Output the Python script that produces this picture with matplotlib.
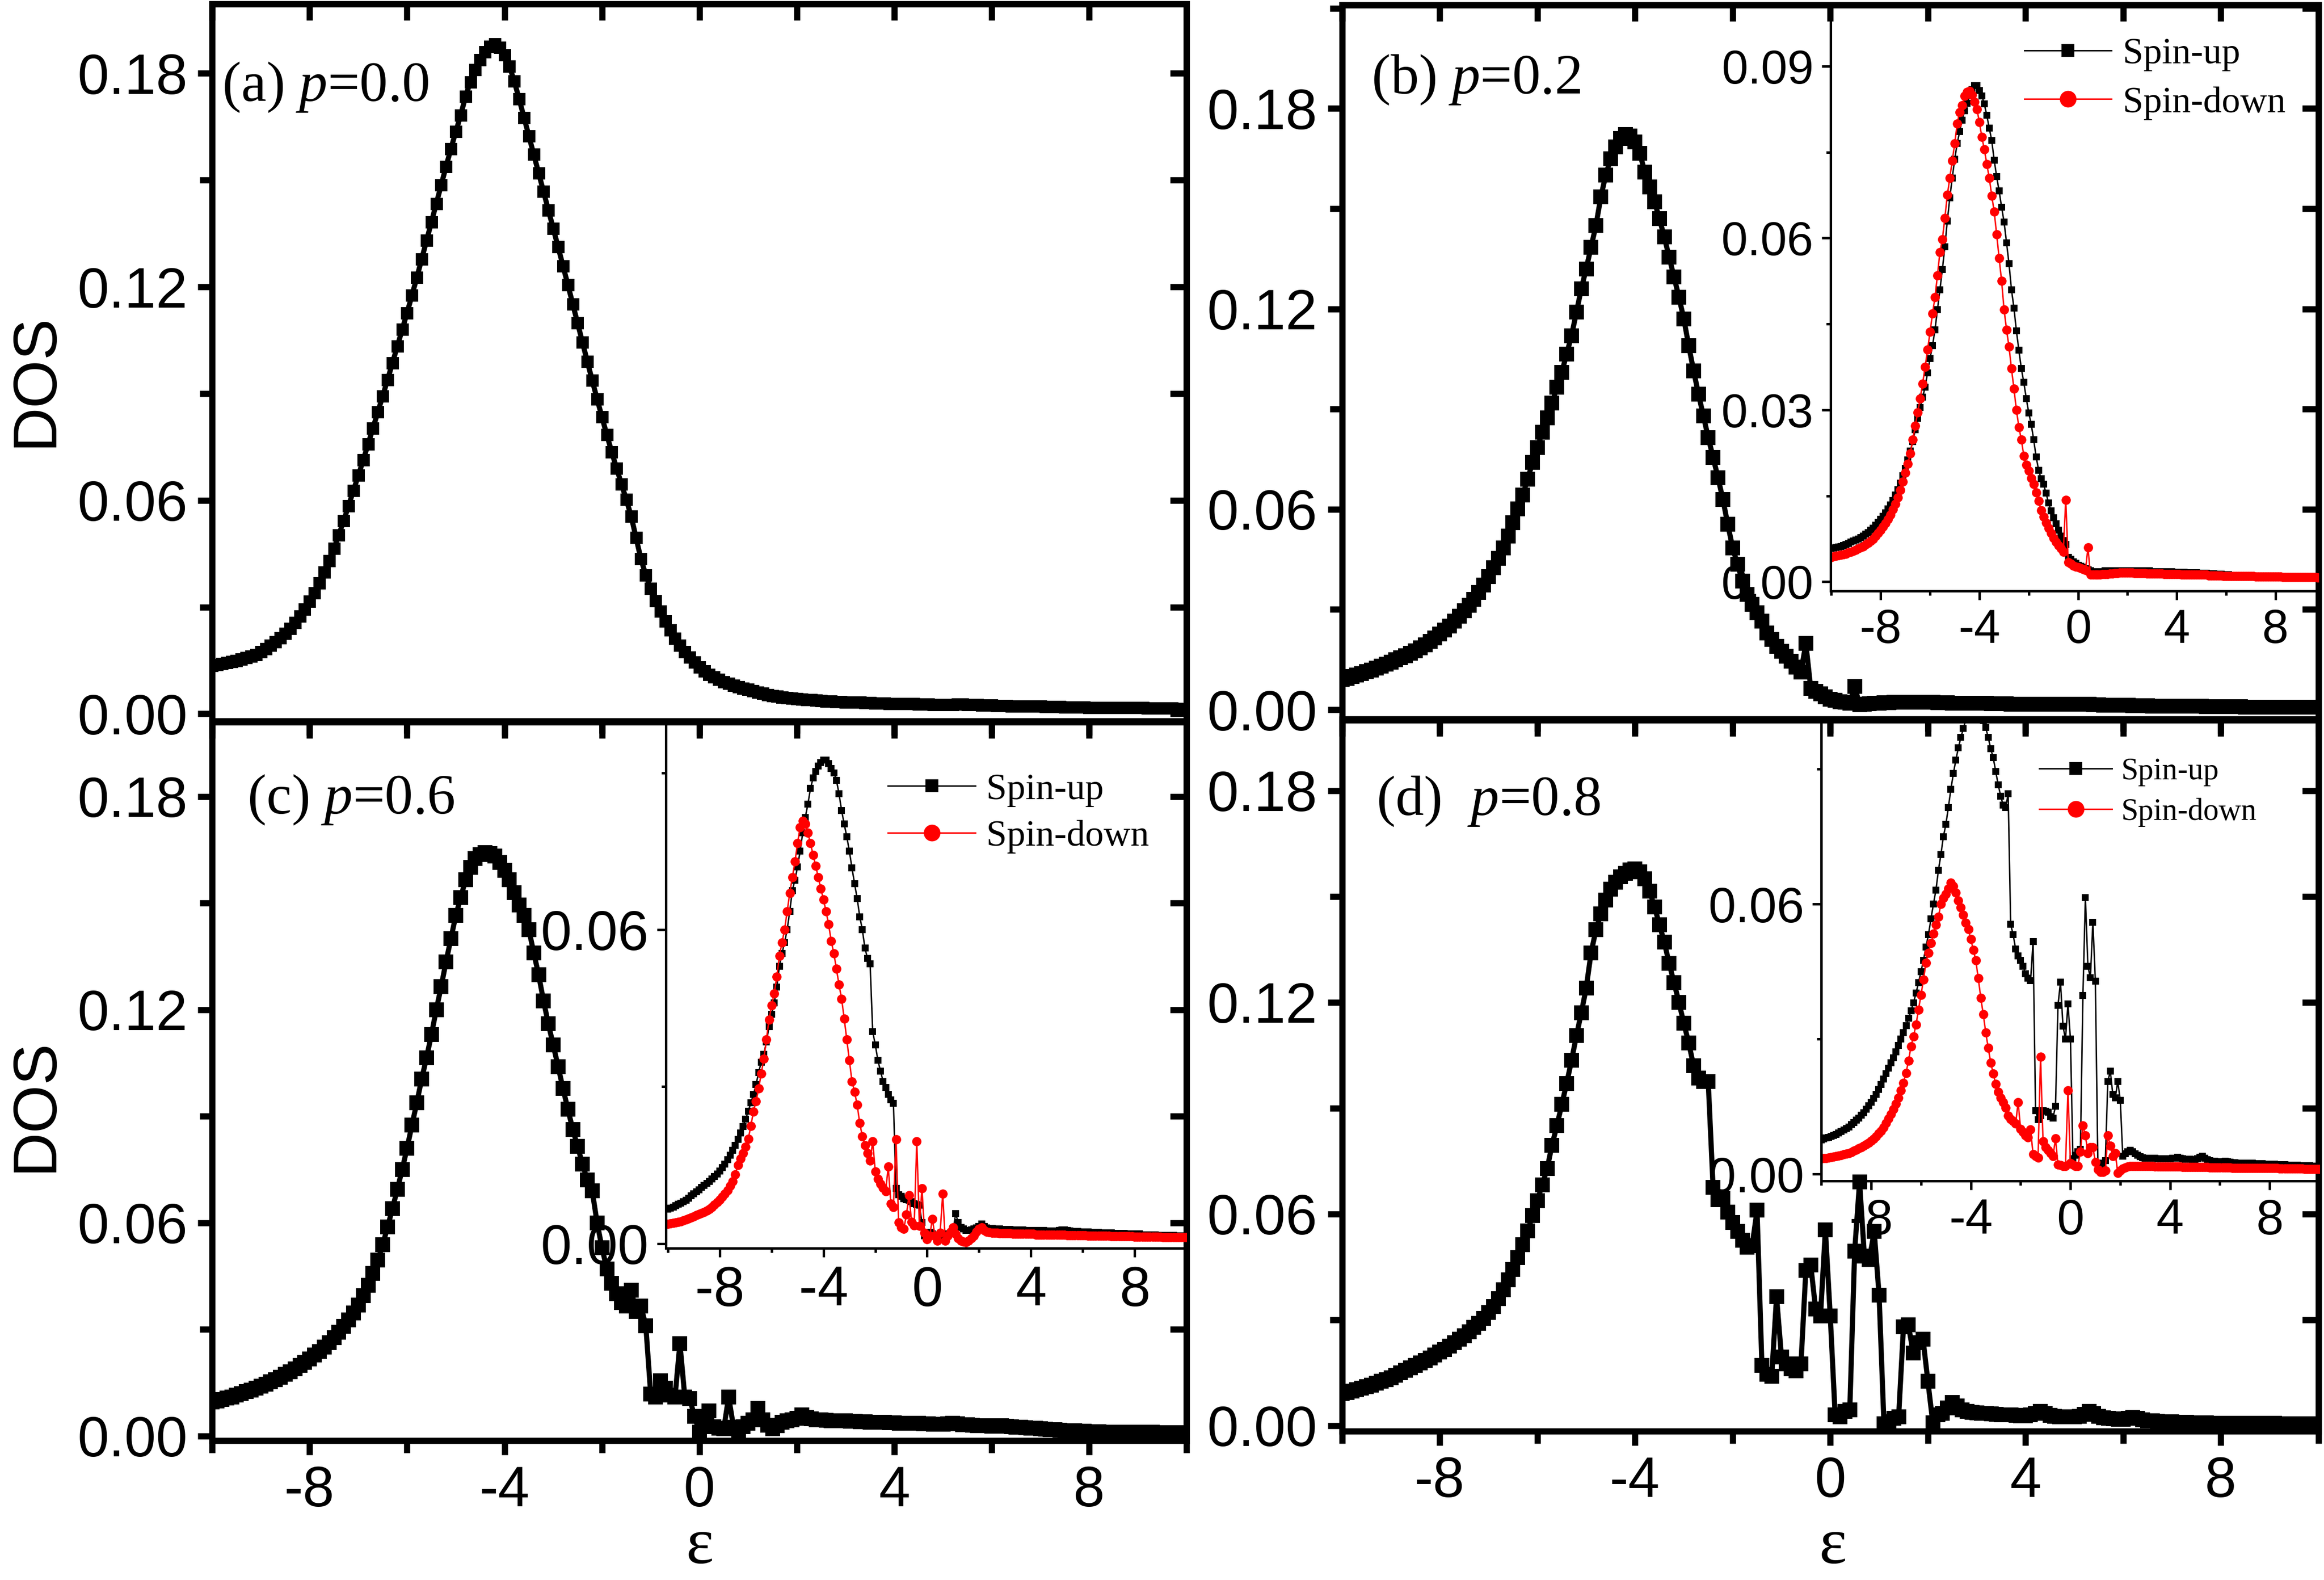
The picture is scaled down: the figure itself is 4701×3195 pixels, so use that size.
import numpy as np
import matplotlib.pyplot as plt
from matplotlib.ticker import MultipleLocator, FormatStrFormatter, NullFormatter

plt.rcParams['font.family'] = 'Liberation Sans'
plt.rcParams['axes.unicode_minus'] = False
plt.rcParams['mathtext.fontset'] = 'custom'
plt.rcParams['mathtext.it'] = 'Liberation Serif:italic'
plt.rcParams['mathtext.rm'] = 'Liberation Serif'

# energy grid, -10 .. 10 in steps of 0.1
eps = np.linspace(-10, 10, 201)

# all DOS values below are in units of 1e-3, one row per unit of energy
dos_a = [
    13.5, 13.8, 14.1, 14.4, 14.7, 15.0, 15.4, 15.8, 16.2, 16.6,
    17.5, 18.3, 19.2, 20.2, 21.3, 22.6, 24.0, 25.6, 27.4, 29.4,
    31.6, 34.0, 36.8, 39.8, 43.0, 46.5, 50.3, 54.3, 58.5, 62.8,
    67.0, 71.3, 75.8, 80.3, 84.8, 89.3, 93.9, 98.6, 103.3, 108.0,
    112.7, 117.6, 122.6, 127.8, 133.0, 138.2, 143.4, 148.6, 153.8, 158.8,
    163.6, 168.2, 173.5, 177.6, 181.0, 183.8, 186.0, 187.6, 188.2, 187.2,
    185.2, 182.0, 177.8, 172.8, 167.6, 162.4, 157.2, 152.0, 146.8, 141.6,
    136.4, 131.2, 125.9, 120.6, 115.2, 109.8, 104.4, 99.0, 93.7, 88.5,
    83.4, 78.4, 73.6, 69.0, 64.6, 60.2, 55.5, 49.5, 43.5, 39.0,
    35.2, 31.8, 28.8, 26.0, 23.5, 21.2, 19.2, 17.4, 15.9, 14.5,
    13.2, 12.0, 11.1, 10.3, 9.6, 9.0, 8.5, 8.0, 7.6, 7.2,
    6.9, 6.5, 6.1, 5.8, 5.4, 5.1, 4.9, 4.7, 4.5, 4.4,
    4.3, 4.1, 4.0, 3.9, 3.8, 3.7, 3.6, 3.5, 3.4, 3.4,
    3.3, 3.3, 3.2, 3.2, 3.1, 3.1, 3.0, 3.0, 3.0, 2.9,
    2.9, 2.9, 2.8, 2.8, 2.8, 2.7, 2.7, 2.7, 2.6, 2.6,
    2.6, 2.6, 2.6, 2.7, 2.7, 2.6, 2.5, 2.5, 2.4, 2.4,
    2.4, 2.3, 2.3, 2.3, 2.2, 2.2, 2.2, 2.1, 2.1, 2.1,
    2.1, 2.0, 2.0, 2.0, 2.0, 1.9, 1.9, 1.9, 1.9, 1.9,
    1.8, 1.8, 1.8, 1.8, 1.8, 1.7, 1.7, 1.7, 1.7, 1.7,
    1.7, 1.7, 1.6, 1.6, 1.6, 1.6, 1.6, 1.6, 1.5, 1.5,
    1.5]

dos_b = [
    9.0, 9.4, 9.9, 10.4, 10.9, 11.4, 11.9, 12.5, 13.1, 13.7,
    14.3, 14.9, 15.5, 16.2, 16.9, 17.7, 18.5, 19.4, 20.4, 21.5,
    22.6, 23.8, 25.1, 26.5, 28.0, 29.6, 31.3, 33.1, 35.1, 37.3,
    39.8, 42.5, 45.3, 48.5, 52.0, 56.0, 60.1, 64.3, 69.0, 74.0,
    78.5, 83.0, 87.3, 91.8, 96.5, 101.0, 106.5, 112.0, 119.0, 126.0,
    132.0, 138.5, 145.0, 153.5, 160.0, 165.0, 168.5, 171.0, 172.2, 171.8,
    170.0, 166.5, 161.0, 156.5, 152.0, 147.0, 141.5, 135.5, 129.5, 123.5,
    117.0, 109.0, 101.5, 94.5, 88.0, 81.5, 75.5, 69.5, 63.0, 55.5,
    48.5, 43.5, 38.5, 34.5, 31.5, 29.0, 26.5, 23.0, 21.0, 19.0,
    17.5, 16.0, 14.5, 12.8, 11.3, 19.8, 6.4, 5.5, 4.7, 3.8,
    3.2, 2.8, 2.4, 2.2, 2.0, 7.0, 1.5, 1.6, 1.8, 1.9,
    2.0, 2.1, 2.1, 2.2, 2.2, 2.2, 2.2, 2.2, 2.2, 2.2,
    2.2, 2.2, 2.1, 2.1, 2.1, 2.0, 2.0, 2.0, 2.0, 1.9,
    1.9, 1.9, 1.9, 1.8, 1.8, 1.8, 1.8, 1.7, 1.7, 1.7,
    1.7, 1.7, 1.6, 1.6, 1.6, 1.6, 1.6, 1.6, 1.6, 1.6,
    1.6, 1.7, 1.7, 1.6, 1.5, 1.5, 1.4, 1.4, 1.4, 1.3,
    1.3, 1.3, 1.2, 1.2, 1.2, 1.2, 1.1, 1.1, 1.1, 1.1,
    1.1, 1.0, 1.0, 1.0, 1.0, 1.0, 1.0, 0.9, 0.9, 0.9,
    0.9, 0.9, 0.9, 0.9, 0.9, 0.8, 0.8, 0.8, 0.8, 0.8,
    0.8, 0.8, 0.8, 0.8, 0.8, 0.8, 0.7, 0.7, 0.7, 0.7,
    0.7]

dos_c = [
    9.5, 9.8, 10.2, 10.6, 11.0, 11.5, 11.9, 12.4, 12.9, 13.4,
    14.0, 14.6, 15.2, 15.8, 16.5, 17.3, 18.1, 18.9, 19.8, 20.7,
    21.7, 22.7, 23.8, 25.0, 26.3, 27.7, 29.2, 30.8, 32.6, 34.6,
    36.8, 39.5, 42.4, 45.7, 49.5, 53.8, 58.8, 64.0, 69.4, 75.0,
    81.0, 87.5, 93.8, 100.5, 106.5, 113.0, 120.0, 126.5, 133.5, 140.0,
    146.5, 151.5, 156.5, 160.0, 162.5, 163.6, 164.2, 164.0, 163.2, 161.5,
    159.2, 156.5, 153.0, 149.5, 146.5, 142.5, 136.0, 129.8, 122.5, 116.0,
    110.0, 104.0, 97.8, 92.0, 86.3, 81.5, 76.5, 72.0, 69.0, 60.0,
    53.0, 47.0, 43.0, 40.0, 37.5, 36.5, 41.0, 35.0, 36.5, 31.0,
    11.8, 11.0, 15.5, 13.5, 11.5, 11.0, 26.0, 11.0, 10.5, 5.5,
    1.0, 3.0, 7.0, 2.6, 2.2, 2.0, 11.0, 2.5, 1.3, 2.6,
    3.5, 4.5, 7.8, 4.5, 3.0, 2.0, 2.8, 3.9, 4.2, 4.6,
    5.0, 5.9, 5.2, 4.8, 4.6, 4.5, 4.4, 4.3, 4.3, 4.2,
    4.2, 4.1, 4.1, 4.0, 4.0, 3.9, 3.9, 3.8, 3.8, 3.7,
    3.7, 3.6, 3.6, 3.6, 3.5, 3.5, 3.4, 3.4, 3.3, 3.3,
    3.3, 3.4, 3.5, 3.4, 3.2, 3.1, 3.0, 2.9, 2.8, 2.8,
    2.7, 2.7, 2.8, 2.7, 2.6, 2.5, 2.4, 2.3, 2.2, 2.1,
    2.0, 1.9, 1.8, 1.7, 1.6, 1.5, 1.4, 1.4, 1.3, 1.3,
    1.2, 1.2, 1.2, 1.1, 1.1, 1.1, 1.1, 1.0, 1.0, 1.0,
    1.0, 1.0, 1.0, 1.0, 0.9, 0.9, 0.9, 0.9, 0.9, 0.9,
    0.9]

dos_d = [
    9.0, 9.4, 9.8, 10.2, 10.6, 11.0, 11.5, 12.0, 12.5, 13.0,
    13.6, 14.2, 14.9, 15.6, 16.3, 17.0, 17.7, 18.4, 19.2, 20.0,
    20.8, 21.6, 22.5, 23.5, 24.5, 25.5, 26.6, 27.8, 29.0, 30.4,
    32.0, 33.8, 36.0, 38.5, 41.3, 44.3, 47.6, 51.2, 55.2, 59.5,
    63.8, 68.2, 72.8, 79.5, 85.0, 91.0, 97.0, 103.5, 110.5, 117.0,
    124.0, 134.0, 140.5, 145.0, 149.0, 152.0, 154.0, 155.5, 156.5, 157.5,
    157.8, 157.0, 155.0, 151.5, 147.0, 142.0, 137.0, 131.0, 125.5, 120.0,
    114.0, 108.5, 102.0, 98.5, 97.5, 97.5, 67.5, 64.0, 64.5, 60.5,
    57.5, 55.0, 52.5, 50.5, 51.0, 61.0, 17.0, 14.5, 14.0, 36.5,
    19.5, 17.5, 16.0, 15.5, 17.5, 44.0, 45.5, 33.0, 31.0, 55.5,
    31.0, 3.0, 2.4, 4.0, 4.5, 49.5, 69.0, 48.0, 47.0, 55.0,
    37.0, 0.5, 1.0, 2.0, 2.4, 28.0, 28.5, 20.5, 23.5, 24.5,
    12.5, 0.8, 3.0, 3.5, 5.0, 6.5, 5.5, 4.5, 4.0, 3.8,
    3.6, 3.5, 3.4, 3.3, 3.2, 3.1, 3.0, 3.0, 2.9, 2.8,
    2.8, 3.0, 3.5, 4.0, 3.4, 2.9, 2.6, 2.5, 2.4, 2.4,
    2.4, 2.6, 3.2, 4.0, 3.5, 2.6, 2.2, 2.0, 1.9, 1.8,
    1.8, 2.0, 2.3, 2.0, 1.6, 1.4, 1.3, 1.2, 1.1, 1.0,
    1.0, 0.9, 0.9, 0.9, 0.8, 0.8, 0.8, 0.8, 0.7, 0.7,
    0.7, 0.7, 0.7, 0.7, 0.6, 0.6, 0.6, 0.6, 0.6, 0.6,
    0.6, 0.6, 0.5, 0.5, 0.5, 0.5, 0.5, 0.5, 0.5, 0.5,
    0.5]

# insets: spin-resolved DOS
up_b = [
    5.8, 5.9, 6.0, 6.1, 6.2, 6.3, 6.5, 6.7, 6.9, 7.1,
    7.3, 7.5, 7.7, 8.0, 8.3, 8.6, 9.0, 9.4, 9.9, 10.4,
    10.9, 11.4, 12.0, 12.7, 13.4, 14.2, 15.1, 16.1, 17.2, 18.5,
    19.8, 21.3, 22.8, 24.5, 26.5, 28.5, 30.4, 32.2, 34.0, 36.5,
    39.0, 41.2, 44.0, 47.5, 51.0, 54.5, 58.5, 63.0, 67.0, 70.5,
    73.8, 76.5, 78.6, 80.6, 82.2, 83.5, 84.8, 85.9, 86.6, 86.6,
    85.8, 84.8, 83.4, 81.4, 79.2, 77.0, 73.6, 70.7, 68.2, 65.4,
    62.8, 59.2, 55.5, 51.0, 47.8, 43.8, 40.4, 37.2, 34.8, 32.0,
    29.5, 27.5, 24.8, 21.8, 19.5, 18.0, 17.0, 15.5, 13.8, 12.4,
    11.2, 10.1, 9.0, 8.0, 7.2, 6.5, 4.3, 3.9, 3.5, 3.2,
    2.9, 2.7, 2.5, 2.3, 2.1, 1.9, 1.8, 1.7, 1.7, 1.8,
    1.8, 1.9, 1.9, 1.9, 1.9, 1.9, 1.9, 1.9, 1.9, 1.9,
    1.9, 1.9, 1.9, 1.9, 1.9, 1.9, 1.9, 1.9, 1.9, 1.9,
    1.8, 1.8, 1.8, 1.8, 1.8, 1.8, 1.8, 1.8, 1.8, 1.7,
    1.7, 1.7, 1.7, 1.7, 1.6, 1.6, 1.6, 1.6, 1.6, 1.5,
    1.5, 1.5, 1.5, 1.4, 1.4, 1.4, 1.3, 1.3, 1.3, 1.2,
    1.2, 1.2, 1.1, 1.1, 1.1, 1.0, 1.0, 1.0, 1.0, 0.9,
    0.9, 0.9, 0.9, 0.9, 0.8, 0.8, 0.8, 0.8, 0.8, 0.8,
    0.7, 0.7, 0.7, 0.7, 0.7, 0.7, 0.7, 0.7, 0.6, 0.6,
    0.6, 0.6, 0.6, 0.6, 0.6, 0.6, 0.6, 0.6, 0.6, 0.6,
    0.6]

down_b = [
    4.3, 4.4, 4.5, 4.6, 4.7, 4.8, 4.9, 5.1, 5.2, 5.4,
    5.6, 5.8, 6.0, 6.2, 6.5, 6.8, 7.1, 7.5, 8.0, 8.5,
    9.0, 9.6, 10.2, 10.9, 11.7, 12.6, 13.6, 14.7, 16.0, 17.5,
    19.0, 20.6, 22.4, 24.8, 27.2, 29.6, 32.0, 34.6, 37.5, 40.5,
    43.6, 46.8, 49.7, 53.5, 57.5, 59.8, 63.5, 67.5, 70.5, 73.5,
    76.5, 80.0, 82.0, 83.2, 84.8, 85.5, 85.7, 85.0, 83.8, 82.5,
    80.2, 77.6, 75.5, 72.9, 70.5, 67.4, 64.6, 60.6, 56.5, 52.5,
    47.5, 44.0, 41.0, 37.2, 33.7, 30.0, 27.0, 24.8, 22.0, 20.4,
    19.4, 18.1, 17.0, 15.6, 14.1, 12.5, 11.3, 10.3, 9.4, 8.5,
    7.6, 6.9, 6.3, 5.8, 5.2, 14.3, 3.4, 3.1, 2.8, 2.6,
    2.5, 2.4, 2.2, 2.0, 6.0, 1.2, 1.2, 1.2, 1.2, 1.2,
    1.3, 1.3, 1.3, 1.4, 1.4, 1.5, 1.5, 1.6, 1.6, 1.6,
    1.6, 1.6, 1.6, 1.5, 1.5, 1.5, 1.5, 1.5, 1.4, 1.4,
    1.4, 1.4, 1.4, 1.4, 1.4, 1.3, 1.3, 1.3, 1.3, 1.3,
    1.3, 1.3, 1.2, 1.2, 1.2, 1.2, 1.2, 1.2, 1.2, 1.2,
    1.2, 1.2, 1.2, 1.1, 1.1, 1.1, 1.1, 1.1, 1.1, 1.0,
    1.0, 1.0, 1.0, 1.0, 1.0, 1.0, 1.0, 1.0, 1.0, 1.0,
    1.0, 1.0, 0.9, 0.9, 0.9, 0.9, 0.9, 0.9, 0.9, 0.9,
    0.9, 0.9, 0.9, 0.8, 0.8, 0.8, 0.8, 0.8, 0.8, 0.8,
    0.8, 0.8, 0.8, 0.8, 0.8, 0.8, 0.8, 0.7, 0.7, 0.7,
    0.7]

up_c = [
    6.6, 6.8, 7.0, 7.2, 7.5, 7.7, 8.0, 8.3, 8.7, 9.1,
    9.5, 9.9, 10.3, 10.7, 11.1, 11.5, 11.9, 12.3, 12.8, 13.3,
    13.9, 14.5, 15.2, 16.0, 16.9, 17.8, 18.8, 19.9, 21.1, 22.4,
    23.8, 25.3, 26.9, 28.5, 30.4, 32.7, 34.7, 36.2, 38.5, 41.5,
    43.8, 46.0, 49.0, 53.0, 55.5, 57.5, 60.0, 63.5, 67.5, 69.5,
    72.0, 75.0, 78.5, 81.5, 84.0, 87.0, 89.0, 90.3, 91.3, 92.0,
    92.4, 92.4, 91.8, 90.8, 90.0, 88.6, 86.0, 82.8, 80.2, 77.8,
    75.0, 71.8, 68.8, 66.0, 62.5, 60.0, 56.5, 54.5, 53.5, 40.5,
    38.0, 35.0, 33.0, 31.0, 29.8, 28.5, 27.5, 26.8, 10.5, 9.3,
    9.0, 8.6, 8.4, 8.3, 8.0, 7.6, 7.4, 7.3, 4.0, 1.5,
    1.8, 2.1, 1.8, 1.5, 1.3, 1.2, 1.4, 1.6, 1.8, 2.0,
    2.5, 5.7, 4.0, 3.1, 2.8, 2.5, 2.5, 2.6, 2.8, 3.0,
    3.3, 3.7, 3.3, 3.0, 2.9, 2.9, 2.8, 2.8, 2.8, 2.7,
    2.7, 2.7, 2.7, 2.6, 2.6, 2.6, 2.6, 2.6, 2.5, 2.5,
    2.5, 2.5, 2.5, 2.5, 2.5, 2.5, 2.4, 2.4, 2.4, 2.4,
    2.4, 2.5, 2.6, 2.6, 2.5, 2.4, 2.3, 2.3, 2.3, 2.2,
    2.2, 2.2, 2.2, 2.1, 2.1, 2.1, 2.1, 2.0, 2.0, 2.0,
    2.0, 2.0, 1.9, 1.9, 1.9, 1.9, 1.9, 1.8, 1.8, 1.8,
    1.8, 1.8, 1.8, 1.7, 1.7, 1.7, 1.7, 1.7, 1.7, 1.6,
    1.6, 1.6, 1.6, 1.6, 1.6, 1.6, 1.5, 1.5, 1.5, 1.5,
    1.5]

down_c = [
    3.7, 3.8, 3.9, 4.0, 4.1, 4.2, 4.4, 4.6, 4.8, 5.0,
    5.2, 5.4, 5.6, 5.8, 6.0, 6.3, 6.6, 7.0, 7.4, 7.9,
    8.4, 8.9, 9.5, 10.2, 11.0, 11.9, 13.2, 15.0, 16.2, 17.3,
    18.5, 20.0, 22.5, 25.2, 27.2, 29.6, 32.5, 35.3, 39.0, 42.8,
    45.5, 47.8, 51.0, 55.0, 57.5, 60.0, 63.5, 67.0, 70.0, 73.0,
    76.5, 79.6, 80.8, 80.2, 78.5, 76.5, 74.3, 72.2, 70.0, 67.8,
    65.8, 63.5, 61.0, 57.8, 55.5, 52.5, 49.5, 46.8, 43.0, 39.0,
    35.0, 31.0, 29.0, 26.5, 23.0, 20.5, 18.8, 17.3, 15.8, 19.5,
    13.8, 12.3, 11.4, 10.6, 10.0, 14.7, 7.6, 7.0, 19.9, 4.0,
    3.1, 2.8, 5.5, 9.2, 4.1, 3.5, 19.5, 3.4, 10.5, 2.0,
    0.8, 1.5, 4.7, 1.5, 0.5, 2.0, 9.5, 0.5, 1.5, 2.2,
    3.1, 1.8, 1.0, 0.5, 0.3, 0.2, 0.5, 1.0, 1.5, 2.2,
    2.8, 3.1, 2.5, 2.2, 2.1, 2.0, 2.0, 2.0, 1.9, 1.9,
    1.9, 1.9, 1.9, 1.8, 1.8, 1.8, 1.8, 1.8, 1.8, 1.8,
    1.8, 1.8, 1.7, 1.7, 1.7, 1.7, 1.7, 1.7, 1.7, 1.7,
    1.7, 1.7, 1.7, 1.7, 1.6, 1.6, 1.6, 1.6, 1.6, 1.6,
    1.6, 1.6, 1.5, 1.5, 1.5, 1.5, 1.5, 1.5, 1.5, 1.5,
    1.5, 1.4, 1.4, 1.4, 1.4, 1.4, 1.4, 1.4, 1.4, 1.4,
    1.3, 1.3, 1.3, 1.3, 1.3, 1.3, 1.3, 1.3, 1.3, 1.3,
    1.3, 1.2, 1.2, 1.2, 1.2, 1.2, 1.2, 1.2, 1.2, 1.2,
    1.2]

up_d = [
    7.6, 7.8, 8.0, 8.2, 8.4, 8.6, 8.8, 9.2, 9.5, 9.8,
    10.1, 10.5, 11.0, 11.5, 12.0, 12.5, 13.1, 13.7, 14.4, 15.2,
    16.0, 16.8, 17.7, 18.8, 19.9, 21.1, 22.3, 23.5, 24.7, 25.9,
    27.2, 28.6, 30.0, 31.5, 33.0, 34.6, 36.3, 38.1, 40.2, 42.5,
    45.0, 47.5, 50.5, 53.2, 56.7, 60.0, 63.1, 67.5, 71.0, 75.0,
    77.7, 81.5, 85.5, 89.0, 92.0, 94.7, 97.0, 99.0, 101.0, 102.5,
    103.5, 104.0, 104.0, 103.3, 102.2, 100.8, 99.2, 97.0, 94.5, 92.5,
    89.5, 86.5, 84.0, 82.0, 81.5, 84.5, 55.5, 53.2, 50.0, 48.5,
    47.5, 46.2, 44.5, 43.5, 43.0, 51.7, 14.1, 12.1, 13.0, 14.1,
    14.0, 13.8, 12.8, 12.5, 15.1, 37.5, 42.7, 32.9, 30.0, 37.8,
    30.0, 3.4, 4.2, 5.0, 5.5, 39.7, 61.4, 46.2, 43.6, 56.0,
    42.9, 2.4, 2.1, 2.5, 3.0, 20.6, 22.9, 17.7, 17.0, 20.6,
    16.4, 4.0, 4.5, 5.0, 5.3, 5.0, 4.5, 4.2, 3.9, 3.7,
    3.6, 3.6, 3.5, 3.5, 3.5, 3.4, 3.4, 3.4, 3.4, 3.4,
    3.4, 3.5, 3.6, 3.8, 3.6, 3.4, 3.3, 3.3, 3.3, 3.2,
    3.2, 3.4, 3.8, 4.0, 3.6, 3.2, 3.0, 2.9, 2.9, 2.8,
    2.8, 2.8, 2.9, 2.8, 2.7, 2.6, 2.6, 2.5, 2.5, 2.5,
    2.4, 2.4, 2.4, 2.4, 2.3, 2.3, 2.3, 2.3, 2.2, 2.2,
    2.2, 2.2, 2.2, 2.1, 2.1, 2.1, 2.1, 2.0, 2.0, 2.0,
    2.0, 2.0, 1.9, 1.9, 1.9, 1.9, 1.9, 1.8, 1.8, 1.8,
    1.8]

down_d = [
    3.4, 3.5, 3.6, 3.7, 3.8, 3.9, 4.0, 4.1, 4.2, 4.4,
    4.5, 4.7, 4.9, 5.2, 5.4, 5.7, 6.0, 6.3, 6.6, 7.0,
    7.4, 7.8, 8.4, 9.0, 9.6, 10.4, 11.3, 12.3, 13.3, 14.4,
    15.6, 17.0, 18.6, 20.3, 22.5, 25.2, 28.4, 30.6, 33.2, 36.5,
    39.8, 43.2, 46.9, 49.2, 51.3, 53.4, 55.4, 57.2, 60.0, 61.3,
    62.2, 63.4, 64.7, 64.0, 62.5, 60.8, 59.3, 57.6, 55.9, 54.4,
    52.2, 49.8, 47.5, 43.5, 39.2, 35.5, 31.5, 28.0, 24.8, 22.3,
    20.0, 18.3, 17.0, 16.0, 14.8, 13.0, 12.2, 11.8, 11.2, 16.0,
    10.0, 9.4, 8.6, 8.2, 9.9, 4.4, 4.0, 3.7, 26.1, 7.3,
    6.0, 5.3, 4.6, 4.0, 7.9, 2.1, 2.0, 1.8, 1.8, 18.6,
    2.4, 2.1, 1.8, 1.8, 5.0, 10.8, 8.6, 4.7, 6.0, 6.0,
    2.7, 1.0, 0.5, 0.5, 0.8, 8.6, 6.3, 4.0, 4.7, 0.2,
    0.8, 1.2, 1.5, 1.7, 1.8, 1.8, 1.8, 1.8, 1.8, 1.8,
    1.8, 1.8, 1.8, 1.8, 1.7, 1.7, 1.7, 1.7, 1.7, 1.7,
    1.7, 1.7, 1.7, 1.7, 1.7, 1.6, 1.6, 1.6, 1.6, 1.6,
    1.6, 1.6, 1.6, 1.6, 1.6, 1.6, 1.5, 1.5, 1.5, 1.5,
    1.5, 1.5, 1.5, 1.5, 1.5, 1.4, 1.4, 1.4, 1.4, 1.4,
    1.4, 1.4, 1.4, 1.4, 1.3, 1.3, 1.3, 1.3, 1.3, 1.3,
    1.3, 1.3, 1.3, 1.3, 1.2, 1.2, 1.2, 1.2, 1.2, 1.2,
    1.2, 1.2, 1.2, 1.2, 1.1, 1.1, 1.1, 1.1, 1.1, 1.1,
    1.1]

panel_labels = ['(a) $p$=0.0', '(b) $p$=0.2', '(c) $p$=0.6', '(d)  $p$=0.8']

MAIN_LW = 3.0


def style_main(ax, ylim, show_x):
    ax.set_xlim(-10, 10)
    ax.set_ylim(*ylim)
    ax.patch.set_alpha(0)
    ax.xaxis.set_major_locator(MultipleLocator(4))
    ax.xaxis.set_minor_locator(MultipleLocator(2))
    ax.yaxis.set_major_locator(MultipleLocator(0.06))
    ax.yaxis.set_minor_locator(MultipleLocator(0.03))
    ax.yaxis.set_major_formatter(FormatStrFormatter('%.2f'))
    ax.xaxis.set_major_formatter(FormatStrFormatter('%d'))
    for s in ax.spines.values():
        s.set_linewidth(MAIN_LW)
    ax.tick_params(which='both', direction='out', width=MAIN_LW,
                   top=False, right=False, labelsize=27.5)
    ax.tick_params(which='major', length=7)
    ax.tick_params(which='minor', length=6)
    ax.tick_params(axis='y', pad=5)
    ax.tick_params(axis='x', pad=5, labelbottom=show_x)
    # inward ticks on the top and right sides
    top = ax.secondary_xaxis('top')
    top.xaxis.set_major_locator(MultipleLocator(2))
    top.xaxis.set_major_formatter(NullFormatter())
    top.tick_params(direction='in', length=8, width=MAIN_LW)
    top.spines['top'].set_linewidth(MAIN_LW)
    right = ax.secondary_yaxis('right')
    right.yaxis.set_major_locator(MultipleLocator(0.03))
    right.yaxis.set_major_formatter(NullFormatter())
    right.tick_params(direction='in', length=8, width=MAIN_LW)
    right.spines['right'].set_linewidth(MAIN_LW)


def style_inset(ax, xlim, ylim, ymajor, yminor, fsize):
    ax.set_xlim(*xlim)
    ax.set_ylim(*ylim)
    ax.patch.set_alpha(0)
    ax.spines['top'].set_visible(False)
    ax.spines['right'].set_visible(False)
    for s in ['left', 'bottom']:
        ax.spines[s].set_linewidth(1.2)
    ax.xaxis.set_major_locator(MultipleLocator(4))
    ax.xaxis.set_minor_locator(MultipleLocator(2))
    ax.yaxis.set_major_locator(MultipleLocator(ymajor))
    ax.yaxis.set_minor_locator(MultipleLocator(yminor))
    ax.yaxis.set_major_formatter(FormatStrFormatter('%.2f'))
    ax.xaxis.set_major_formatter(FormatStrFormatter('%d'))
    ax.tick_params(which='both', direction='out', width=1.2,
                   top=False, right=False, labelsize=fsize)
    ax.tick_params(which='major', length=4.3, pad=4)
    ax.tick_params(which='minor', length=2.2)


def plot_inset(ax, up, down, legend_pos, fsize, spacing):
    ax.plot(eps, np.array(up) * 1e-3, '-s', color='black', lw=0.7,
            ms=3.5, mew=0, label='Spin-up')
    ax.plot(eps, np.array(down) * 1e-3, '-o', color='red', lw=0.7,
            ms=4.5, mew=0, label='Spin-down')
    ax.legend(loc='center left', bbox_to_anchor=legend_pos, frameon=False,
              prop={'family': 'Liberation Serif', 'size': fsize},
              handlelength=2.35, handletextpad=0.3, labelspacing=spacing,
              borderpad=0, borderaxespad=0, markerscale=1.8)


fig = plt.figure(figsize=(4701 / 300, 3195 / 300), dpi=300)

ax_a = fig.add_axes([0.0913, 0.5437, 0.4193, 0.4538])
ax_c = fig.add_axes([0.0913, 0.0883, 0.4193, 0.4548])
ax_b = fig.add_axes([0.5775, 0.5449, 0.4201, 0.4520])
ax_d = fig.add_axes([0.5775, 0.0942, 0.4201, 0.4501])

mains = [(ax_a, dos_a, (-0.002, 0.1995), False, 6.0, (0.010, 0.865)),
         (ax_b, dos_b, (-0.0028, 0.211), False, 7.0, (0.030, 0.876)),
         (ax_c, dos_c, (-0.0013, 0.201), True, 7.0, (0.036, 0.873)),
         (ax_d, dos_d, (-0.0016, 0.200), True, 7.0, (0.035, 0.867))]

for (ax, dos, ylim, show_x, ms, lab_pos), lab in zip(mains, panel_labels):
    ax.plot(eps, np.array(dos) * 1e-3, '-s', color='black', lw=2.5,
            ms=ms, mew=0)
    style_main(ax, ylim, show_x)
    ax.text(lab_pos[0], lab_pos[1], lab, transform=ax.transAxes,
            fontsize=27.5, family='Liberation Serif', va='baseline', ha='left')

# insets
in_b = fig.add_axes([0.7877, 0.6260, 0.2100, 0.3709])
style_inset(in_b, (-10.03, 9.75), (-0.0016, 0.1007), 0.03, 0.015, 23)
plot_inset(in_b, up_b, down_b, (0.397, 0.874), 18, 0.4)

in_c = fig.add_axes([0.2865, 0.2100, 0.2240, 0.3330])
style_inset(in_c, (-10.08, 10), (-0.0009, 0.0997), 0.06, 0.03, 27)
plot_inset(in_c, up_c, down_c, (0.427, 0.8265), 18, 0.35)

in_d = fig.add_axes([0.7837, 0.2526, 0.2144, 0.2917])
style_inset(in_d, (-10, 10), (-0.0015, 0.1009), 0.06, 0.03, 24)
plot_inset(in_d, up_d, down_d, (0.4375, 0.8436), 15, 0.38)

# axis titles
fig.text(0.0155, 0.7596, 'DOS', rotation=90, fontsize=30, ha='center', va='center')
fig.text(0.0155, 0.3005, 'DOS', rotation=90, fontsize=30, ha='center', va='center')
fig.text(0.3012, 0.002, 'ε', fontsize=32, family='Liberation Serif',
         ha='center', va='bottom')
fig.text(0.7888, 0.002, 'ε', fontsize=32, family='Liberation Serif',
         ha='center', va='bottom')

fig.savefig('out.png', dpi=300)
